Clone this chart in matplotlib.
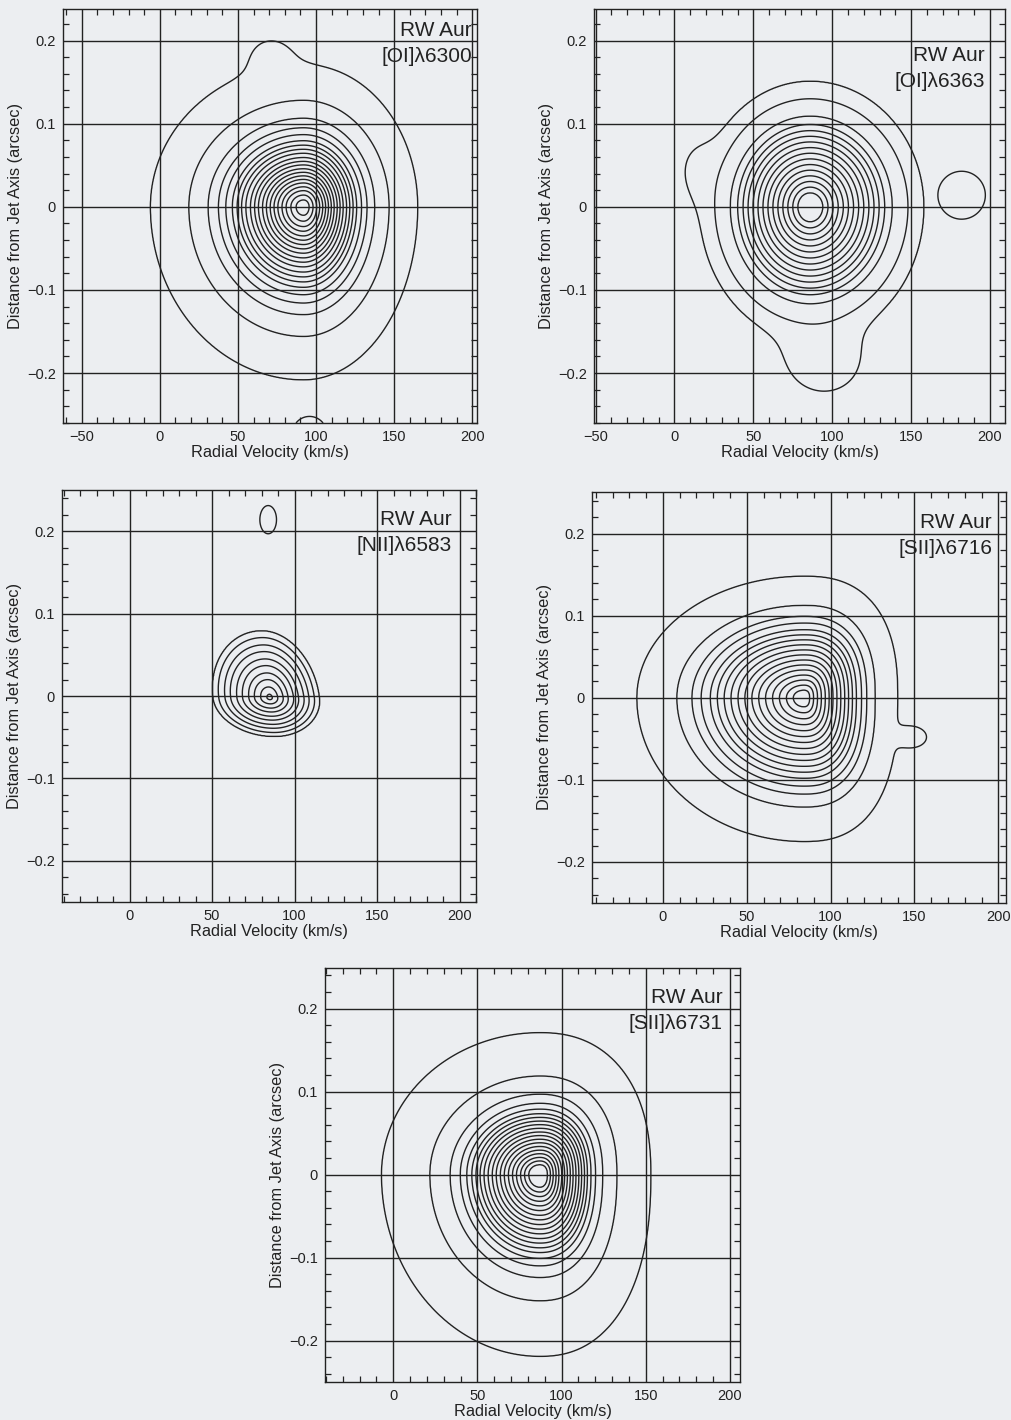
import numpy as np
import matplotlib.pyplot as plt
from matplotlib.ticker import MultipleLocator, FuncFormatter

plt.rcParams['font.family'] = ['Liberation Sans', 'DejaVu Sans']

# ---- emission line maps of RW Aur (position-velocity) ----
star = 'RW Aur'
line_names = ['[OI]λ6300', '[OI]λ6363', '[NII]λ6583', '[SII]λ6716', '[SII]λ6731']

# peak of each line (km/s, arcsec)
core_v = [92.0, 86.0, 85.0, 84.0, 87.0]
core_y = [0.0, 0.0, -0.002, 0.0, 0.0]
# extent of the lowest contour: blue / red side in velocity, below / above the axis
edge_v_blue = [98.0, 70.0, 34.4, 99.5, 94.0]
edge_v_red = [73.0, 72.0, 30.0, 56.0, 66.0]
edge_y_down = [0.208, 0.161, 0.047, 0.175, 0.219]
edge_y_up = [0.171, 0.151, 0.081, 0.148, 0.171]
core_shear = [0.0, 0.0, -60.0, 0.0, 0.0]
# contour squareness on the blue / red side (2 = elliptical)
shape_blue = [2.0, 2.0, 2.0, 2.0, 2.0]
shape_red = [2.0, 2.0, 2.0, 2.5, 2.3]

# contour radii (fraction of the lowest contour), from the peak outwards
rings_6300 = [0.049, 0.083, 0.114, 0.141, 0.168, 0.193, 0.218, 0.243, 0.268, 0.295, 0.320,
              0.347, 0.377, 0.405, 0.434, 0.465, 0.508, 0.556, 0.623, 0.749, 1.0]
rings_6363 = [0.112, 0.157, 0.202, 0.247, 0.292, 0.337, 0.382, 0.427, 0.472, 0.517, 0.562,
              0.607, 0.656, 0.722, 0.861, 1.0]
rings_6583 = [0.05, 0.16, 0.27, 0.37, 0.48, 0.58, 0.69, 0.79, 0.90, 1.0]
rings_6716 = [0.063, 0.104, 0.146, 0.187, 0.229, 0.270, 0.311, 0.353, 0.394, 0.436, 0.477,
              0.518, 0.560, 0.615, 0.670, 0.760, 1.0]
rings_6731 = [0.070, 0.096, 0.121, 0.147, 0.172, 0.198, 0.224, 0.249, 0.275, 0.300, 0.326,
              0.352, 0.377, 0.403, 0.429, 0.461, 0.502, 0.566, 0.694, 1.0]
rings = [rings_6300, rings_6363, rings_6583, rings_6716, rings_6731]

# secondary knots (amplitude in contour steps); 'max' knots stay detached
knot_panel = [0, 0, 1, 1, 1, 2, 3]
knot_v = [70.0, 96.0, 182.0, 96.0, 10.0, 84.0, 151.0]
knot_y = [0.19, -0.275, 0.014, -0.2, 0.05, 0.214, -0.048]
knot_sv = [12.0, 8.8, 16.7, 19.0, 10.0, 5.6, 6.0]
knot_sy = [0.02, 0.015, 0.032, 0.03, 0.03, 0.019, 0.009]
knot_amp = [0.35, 1.14, 1.5, 0.83, 0.3, 1.5, 0.9]
knot_merge = ['add', 'add', 'max', 'add', 'add', 'max', 'add']

TAIL = 1.6     # radius where the map falls to zero

# axes boxes in pixels (left, top, right, bottom) and data limits
boxes = [(63, 9, 477, 423), (594, 9, 1005, 423), (62, 490, 476, 902),
         (592, 492, 1006, 903), (325, 968, 740, 1382)]
xlims = [(-62, 203), (-51, 209.5), (-41, 210), (-42.3, 204.6), (-40.6, 206)]
ylims = [(-0.26, 0.238), (-0.26, 0.238), (-0.25, 0.25), (-0.25, 0.2507), (-0.25, 0.249)]
# label offsets from the top-right corner (px)
label_dx = [5, 20, 24, 14, 17]
label_dy = [27, 52, 35, 36, 35]

W, H = 1011, 1420
BG = '#eceef1'
INK = '#222222'


def emission_map(i, vv, yy):
    dy = yy - core_y[i]
    dv = vv - core_v[i] - core_shear[i] * dy
    sv = np.where(dv < 0, edge_v_blue[i], edge_v_red[i])
    sy = np.where(dy < 0, edge_y_down[i], edge_y_up[i])
    pw = np.where(dv < 0, shape_blue[i], shape_red[i])
    rho = (np.abs(dv / sv) ** pw + np.abs(dy / sy) ** pw) ** (1 / pw)
    n = len(rings[i])
    xp = [0.0] + rings[i] + [TAIL]
    fp = [n + 0.8] + list(range(n, 0, -1)) + [0.0]
    flux = np.interp(rho, xp, fp)
    detached = np.zeros_like(flux)
    for p, kv, ky, ksv, ksy, ka, km in zip(knot_panel, knot_v, knot_y, knot_sv,
                                           knot_sy, knot_amp, knot_merge):
        if p != i:
            continue
        knot = ka * np.exp(-0.5 * (((vv - kv) / ksv) ** 2 + ((yy - ky) / ksy) ** 2))
        if km == 'add':
            flux = flux + knot
        else:
            detached = np.maximum(detached, knot)
    return np.maximum(flux, detached)


def ytick_fmt(val, pos):
    if abs(val) < 1e-9:
        return '0'
    return ('%.1f' % val).replace('-', '\u2212')


fig = plt.figure(figsize=(W / 100, H / 100), dpi=100, facecolor=BG)

for i in range(5):
    l, t, r, b = boxes[i]
    ax = fig.add_axes([l / W, 1 - b / H, (r - l) / W, (b - t) / H])
    ax.set_facecolor('none')

    v = np.linspace(xlims[i][0], xlims[i][1], 700)
    y = np.linspace(ylims[i][0], ylims[i][1], 700)
    vv, yy = np.meshgrid(v, y)
    flux = emission_map(i, vv, yy)
    levels = np.arange(1, len(rings[i]) + 1)
    ax.contour(vv, yy, flux, levels=levels, colors=INK, linewidths=1.0)

    ax.set_xlim(*xlims[i])
    ax.set_ylim(*ylims[i])
    ax.xaxis.set_major_locator(MultipleLocator(50))
    ax.xaxis.set_minor_locator(MultipleLocator(10))
    ax.yaxis.set_major_locator(MultipleLocator(0.1))
    ax.yaxis.set_minor_locator(MultipleLocator(0.02))
    ax.yaxis.set_major_formatter(FuncFormatter(ytick_fmt))
    ax.grid(True, which='major', color=INK, linewidth=1.0)
    ax.tick_params(which='both', direction='in', top=True, right=True,
                   labelsize=10.5, colors=INK, width=0.9)
    ax.tick_params(which='major', length=0, pad=5)
    ax.tick_params(which='minor', length=4.5)
    for s in ax.spines.values():
        s.set_color(INK)
        s.set_linewidth(1.0)

    ax.set_xlabel('Radial Velocity (km/s)', fontsize=11.8, color=INK, labelpad=1)
    ax.set_ylabel('Distance from Jet Axis (arcsec)', fontsize=11.8, color=INK, labelpad=3)

    ax.annotate(star, xy=(1, 1), xycoords='axes fraction',
                xytext=(-label_dx[i] * 0.72, -label_dy[i] * 0.72), textcoords='offset points',
                ha='right', va='baseline', fontsize=15, color=INK)
    ax.annotate(line_names[i], xy=(1, 1), xycoords='axes fraction',
                xytext=(-label_dx[i] * 0.72, -(label_dy[i] + 26) * 0.72), textcoords='offset points',
                ha='right', va='baseline', fontsize=15, color=INK)

fig.savefig('out.png', dpi=100, facecolor=BG)
